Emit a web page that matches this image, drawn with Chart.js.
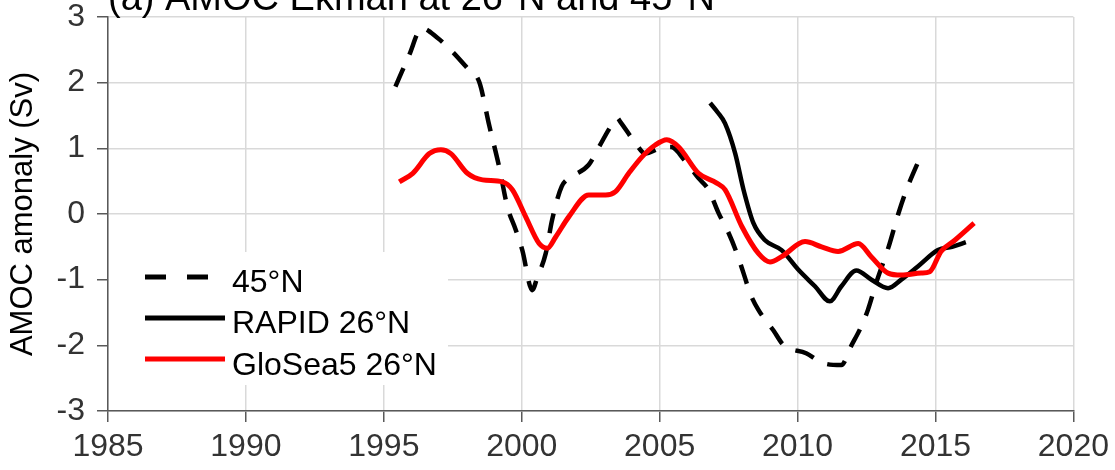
<!DOCTYPE html>
<html>
<head>
<meta charset="utf-8">
<script src="https://cdn.jsdelivr.net/npm/chart.js@4.4.0/dist/chart.umd.min.js"></script>
<style>
  html, body { margin: 0; padding: 0; background: #fff; }
  #wrap { width: 1115px; height: 470px; }
</style>
</head>
<body>
<div id="wrap"><canvas id="cAmoc" width="1115" height="470"></canvas></div>
<script>
/* AMOC Ekman anomaly, 26N and 45N */

var FONT = "'Liberation Sans', Arial, sans-serif";

var xTicks = [1985, 1990, 1995, 2000, 2005, 2010, 2015, 2020];
var yTicks = [-3, -2, -1, 0, 1, 2, 3];

var legendLabels = ["45°N", "RAPID 26°N", "GloSea5 26°N"];

// 45N (dashed)
var years45 = [1995.42, 1995.9, 1996.38, 1996.95, 1997.49, 1998.03, 1998.46, 1998.82, 1999.18, 1999.48,
  1999.78, 2000.02, 2000.38, 2000.56, 2000.87, 2001.1, 2001.45, 2001.83, 2002.43, 2002.8,
  2003.22, 2003.46, 2003.58, 2004.12, 2004.48, 2005.0, 2005.42, 2005.9, 2006.4, 2006.77,
  2007.14, 2007.5, 2007.8, 2008.04, 2008.28, 2008.58, 2009.12, 2009.48, 2010.31, 2010.92,
  2011.59, 2011.93, 2012.3, 2012.55, 2012.85, 2013.3, 2013.65, 2013.95, 2014.43];
var amoc45 = [1.94, 2.4, 2.83, 2.68, 2.47, 2.22, 2.01, 1.35, 0.72, 0.11,
  -0.24, -0.55, -1.16, -0.97, -0.6, -0.09, 0.42, 0.57, 0.75, 1.02,
  1.33, 1.46, 1.4, 1.08, 0.92, 1.0, 1.02, 0.82, 0.55, 0.37,
  0.01, -0.29, -0.6, -0.9, -1.21, -1.46, -1.77, -1.99, -2.12, -2.27,
  -2.3, -2.02, -1.72, -1.46, -1.05, -0.5, 0.0, 0.37, 0.85];

// RAPID 26N
var yearsRapid = [2006.83, 2007.1, 2007.37, 2007.74, 2008.04, 2008.4, 2008.82, 2009.42, 2010.03, 2010.63,
  2011.17, 2011.59, 2012.13, 2012.68, 2013.28, 2013.76, 2014.36, 2015.09, 2015.6, 2016.1];
var amocRapid = [1.69, 1.55, 1.38, 0.92, 0.37, -0.14, -0.4, -0.55, -0.85, -1.1,
  -1.33, -1.1, -0.86, -1.0, -1.13, -1.0, -0.8, -0.55, -0.5, -0.43];

// GloSea5 26N
var yearsGlo = [1995.56, 1996.05, 1996.65, 1997.07, 1997.43, 1998.03, 1998.58, 1999.3, 1999.66, 2000.14,
  2000.63, 2000.93, 2001.23, 2001.71, 2002.43, 2003.04, 2003.4, 2003.88, 2004.36, 2004.84,
  2005.26, 2005.69, 2006.41, 2007.07, 2007.37, 2007.98, 2008.58, 2009.0, 2009.42, 2010.27,
  2010.87, 2011.47, 2012.2, 2012.67, 2013.28, 2013.76, 2014.48, 2014.79, 2015.2, 2015.7, 2016.4];
var amocGlo = [0.49, 0.62, 0.92, 0.98, 0.92, 0.62, 0.52, 0.49, 0.37, -0.04,
  -0.45, -0.52, -0.35, -0.04, 0.29, 0.29, 0.34, 0.62, 0.87, 1.05,
  1.13, 1.02, 0.62, 0.47, 0.37, -0.19, -0.6, -0.73, -0.65, -0.42,
  -0.5, -0.57, -0.45, -0.65, -0.9, -0.93, -0.9, -0.88, -0.57, -0.4, -0.14];

function pts(xs, ys) {
  return xs.map(function(x, i) { return { x: x, y: ys[i] }; });
}

var titlePlugin = {
  id: "ttl",
  afterDraw: function(ch) {
    var c = ch.ctx;
    c.save();
    c.fillStyle = "#000";
    c.font = "38px " + FONT;
    c.textAlign = "left";
    c.textBaseline = "alphabetic";
    c.fillText("(a) AMOC Ekman at 26°N and 45°N", 108, 10);
    c.restore();
  }
};

var legendPlugin = {
  id: "lgd",
  afterDatasetsDraw: function(ch) {
    var c = ch.ctx;
    var rows = [
      { col: "#000", dash: [21, 21], ly: 277, ty: 292 },
      { col: "#000", dash: [], ly: 318, ty: 333 },
      { col: "#ff0000", dash: [], ly: 359, ty: 375 }
    ];
    c.save();
    c.fillStyle = "#fff";
    c.fillRect(109, 252, 339, 133);
    c.lineWidth = 5;
    c.lineCap = "butt";
    rows.forEach(function(r, i) {
      c.strokeStyle = r.col;
      c.setLineDash(r.dash);
      c.beginPath();
      c.moveTo(145, r.ly);
      c.lineTo(i === 0 ? 209 : 225, r.ly);
      c.stroke();
      c.setLineDash([]);
      c.fillStyle = "#000";
      c.font = "32px " + FONT;
      c.textAlign = "left";
      c.textBaseline = "alphabetic";
      c.fillText(legendLabels[i], 232, r.ty);
    });
    c.restore();
  }
};

var gridCfg = { color: "#d9d9d9", lineWidth: 1.5, tickColor: "#595959", tickLength: 11, tickWidth: 1.5 };
var borderCfg = { display: true, color: "#595959", width: 1.5 };

new Chart(document.getElementById("cAmoc"), {
  type: "line",
  data: {
    datasets: [{
      label: legendLabels[0],
      data: pts(years45, amoc45),
      borderColor: "#000",
      borderWidth: 4.5,
      borderDash: [20, 15],
      pointRadius: 0,
      fill: false,
      cubicInterpolationMode: "monotone",
      order: 2
    }, {
      label: legendLabels[1],
      data: pts(yearsRapid, amocRapid),
      borderColor: "#000",
      borderWidth: 4.5,
      pointRadius: 0,
      fill: false,
      cubicInterpolationMode: "monotone",
      order: 1
    }, {
      label: legendLabels[2],
      data: pts(yearsGlo, amocGlo),
      borderColor: "#ff0000",
      borderWidth: 5,
      pointRadius: 0,
      fill: false,
      cubicInterpolationMode: "monotone",
      order: 0
    }]
  },
  options: {
    responsive: false,
    animation: false,
    layout: { padding: { left: 0, right: 40, top: 17, bottom: 0 } },
    scales: {
      x: {
        type: "linear",
        min: xTicks[0],
        max: xTicks[xTicks.length - 1],
        afterBuildTicks: function(s) { s.ticks = xTicks.map(function(v) { return { value: v }; }); },
        afterFit: function(s) { s.height = 59; },
        grid: gridCfg,
        border: borderCfg,
        ticks: {
          color: "#333",
          padding: 6,
          maxRotation: 0,
          font: { size: 32, family: FONT },
          callback: function(v) { return String(v); }
        }
      },
      y: {
        min: yTicks[0],
        max: yTicks[yTicks.length - 1],
        afterBuildTicks: function(s) { s.ticks = yTicks.map(function(v) { return { value: v }; }); },
        afterFit: function(s) { s.width = 108; },
        grid: gridCfg,
        border: borderCfg,
        title: {
          display: true,
          text: "AMOC amonaly (Sv)",
          color: "#000",
          padding: { top: 5, bottom: 0 },
          font: { size: 31, family: FONT }
        },
        ticks: {
          color: "#333",
          padding: 12,
          font: { size: 32, family: FONT, lineHeight: 0.2 },
          callback: function(v) { return String(v); }
        }
      }
    },
    plugins: {
      legend: { display: false },
      tooltip: { enabled: false }
    }
  },
  plugins: [titlePlugin, legendPlugin]
});
</script>
</body>
</html>
